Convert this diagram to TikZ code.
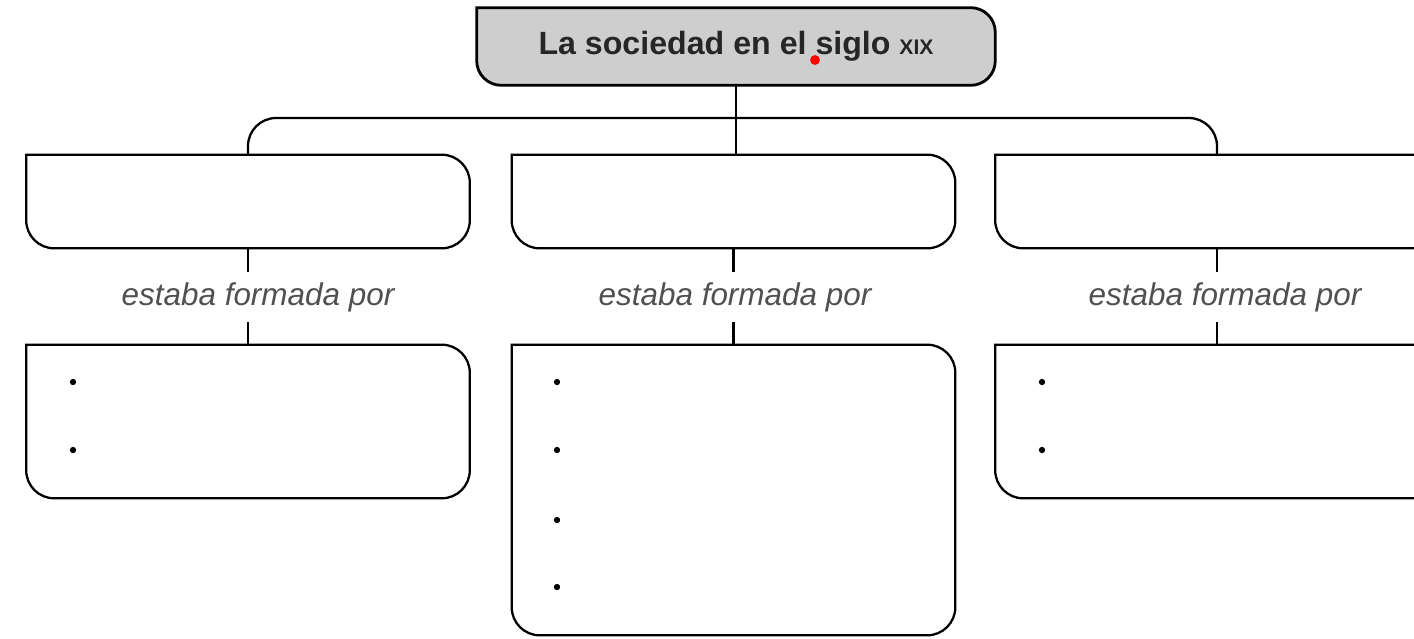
\documentclass[tikz,border=0pt]{standalone}
\usepackage{fontspec}
\setmainfont{Liberation Sans}
\usetikzlibrary{backgrounds}
\definecolor{grisfondo}{RGB}{206,206,206}
\definecolor{gristexto}{RGB}{80,80,80}

\begin{document}
\begin{tikzpicture}[x=0.02cm,y=-0.02cm,
    caja/.style={rectangle,inner sep=0pt,minimum width=8.86cm,minimum height=1.86cm},
    borde/.style={line width=1.3pt},
    enlace/.style={line width=1.3pt},
    verbo/.style={inner sep=0pt,minimum height=1cm,text=gristexto,
        font=\fontsize{17.9}{17.9}\selectfont\itshape}]
        \def\R{16pt}     %define corner radius
        \clip (0,0) rectangle (1414,639);
        % title
        \node[caja,minimum width=10.36cm,minimum height=1.54cm,text=black!85,
            font=\fontsize{18.3}{18.3}\selectfont\bfseries] (tit) at (736,46.5)
            {La sociedad en el siglo {\fontsize{12}{12}\selectfont XIX}};
        \begin{scope}[on background layer]
        \draw[borde,line width=1.6pt,fill=grisfondo] (tit.north) [rounded corners=14pt]
            -- (tit.north east) -- (tit.south east) -- (tit.south west)
            [sharp corners] -- (tit.north west) -- cycle;
        \end{scope}
        % first row
        \node[caja] (a1) at (248,201.5) {};
        \node[caja] (b1) at (733.5,201.5) {};
        \node[caja] (c1) at (1217,201.5) {};
        % labels
        \node[verbo] (va) at (258,297) {estaba formada por};
        \node[verbo] (vb) at (735,297) {estaba formada por};
        \node[verbo] (vc) at (1225,297) {estaba formada por};
        % second row
        \node[caja,minimum height=3.06cm] (a2) at (248,421.5) {};
        \node[caja,minimum height=5.8cm] (b2) at (733.5,490) {};
        \node[caja,minimum height=3.06cm] (c2) at (1217,421.5) {};
        \foreach \n in {a1,b1,c1,a2,b2,c2}
            \draw[borde] (\n.north) [rounded corners=\R] -- (\n.north east)
                -- (\n.south east) -- (\n.south west) [sharp corners]
                -- (\n.north west) -- cycle;
        % connectors
        \coordinate (rama) at (735,118);
        \draw[enlace] (tit.south) -- (tit.south |- b1.north);
        \draw[enlace,rounded corners=\R] (a1.north) |- (rama) -| (c1.north);
        \foreach \n/\v in {a/va,b/vb,c/vc} {
            \draw[enlace] (\n1.south) -- (\n1.south |- \v.north);
            \draw[enlace] (\n1.south |- \v.south) -- (\n2.north);
        }
        % bullets
        \foreach \y in {382,450} {
            \fill (73,\y) circle (1.8pt);
            \fill (1042,\y) circle (1.8pt);
        }
        \foreach \y in {382,450,520,587}
            \fill (557,\y) circle (1.8pt);
        \fill[red] (815,60) circle (2.8pt);
    \end{tikzpicture}
\end{document}
